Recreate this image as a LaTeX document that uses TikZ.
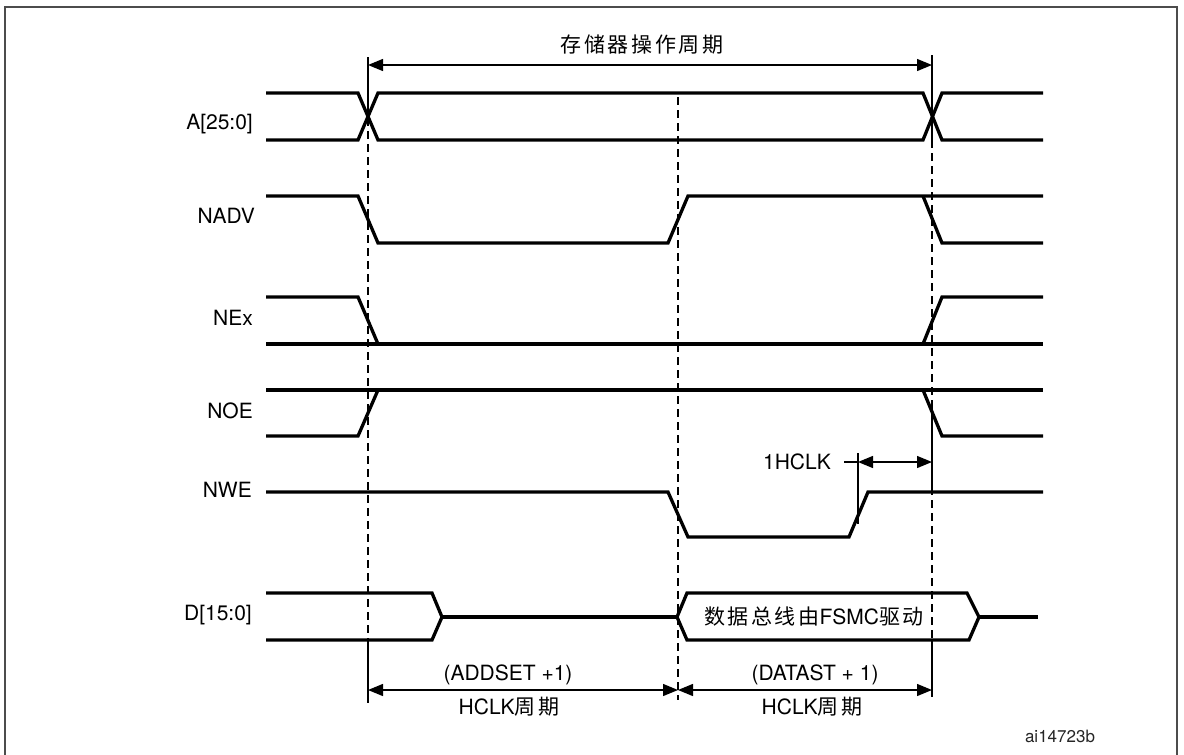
\documentclass[tikz,border=0pt]{standalone}
\usepackage{fontspec}
\setmainfont{TeX Gyre Heros}
\newfontfamily\cjk[LetterSpace=12]{Noto Sans CJK SC}
\usepackage{tikz}
\usetikzlibrary{arrows.meta,positioning}

\begin{document}
\begin{tikzpicture}[
    x=1pt, y=-1pt,
    wave/.style={line width=3.3pt, line join=miter},
    heavy/.style={line width=4.6pt},
    tick/.style={line width=1.3pt},
    guide/.style={tick, dash pattern=on 8pt off 5pt},
    dim/.style={tick, {Triangle[length=15pt,width=12pt]}-{Triangle[length=15pt,width=12pt]}},
    lbl/.style={font=\fontsize{21}{25}\selectfont, inner sep=0pt},
    sig/.style={lbl, anchor=east},
    frame/.style={line width=1.5pt, draw=black!70}]
  \useasboundingbox (0,0) rectangle (1184,755);
  \draw[frame] (5,760) |- (1177,7) -- (1177,760);

  % signal names
  \node[sig] (addr) at (253,124) {A[25:0]};
  \node[sig] (nadv) at (255,216) {NADV};
  \node[sig] (nex)  at (253,318) {NEx};
  \node[sig] (noe)  at (253,411) {NOE};
  \node[sig] (nwe)  at (252,490) {NWE};
  \node[sig] (data) at (252,615) {D[15:0]};

  % waveforms
  \draw[wave] (266,93) -- (358,93) -- (378,140) -- (923,140) -- (942,93) -- (1043,93);
  \draw[wave] (266,140) -- (358,140) -- (378,93) -- (923,93) -- (942,140) -- (1043,140);
  \draw[wave] (266,196) -- (358,196) -- (378,243) -- (668,243) -- (688,196) -- (1043,196);
  \draw[wave] (923,196) -- (942,243) -- (1043,243);
  \draw[wave] (266,297) -- (358,297) -- (378,344);
  \draw[heavy] (266,344) -- (1043,344);
  \draw[wave] (923,344) -- (942,297) -- (1043,297);
  \draw[heavy] (266,390) -- (1043,390);
  \draw[wave] (266,436) -- (358,436) -- (378,390);
  \draw[wave] (923,390) -- (942,436) -- (1043,436);
  \draw[wave] (266,492) -- (668,492) -- (688,537) -- (849,537) -- (868,492) -- (1043,492);
  \draw[wave] (266,593) -- (432,593) -- (442,617) -- (432,640) -- (266,640);
  \draw[wave] (442,617) -- (677,617);
  \draw[wave] (677,617) -- (687,593) -- (967,593) -- (979,617) -- (969,640) -- (687,640) -- cycle;
  \draw[wave] (979,617) -- (1038,617);
  \node[lbl] (bus) at (814,617) {{\cjk 数据总线由}FSMC{\cjk 驱动}};

  % timing marks
  \draw[tick] (368,57) -- (368,118);
  \draw[guide] (368,118) -- (368,640);
  \draw[tick] (368,640) -- (368,703);
  \draw[guide] (678,97) -- (678,700);
  \draw[tick] (932,55) -- (932,140);
  \draw[guide] (932,140) -- (932,400);
  \draw[tick] (932,400) -- (932,487);
  \draw[guide] (932,487) -- (932,640);
  \draw[tick] (932,640) -- (932,697);

  \coordinate (c0) at (368,65);
  \coordinate (c2) at (932,65);
  \draw[dim] (c0) -- (c2);
  \node[lbl] (cycle) at (642,45) {\cjk 存储器操作周期};

  \coordinate (h0) at (858,462);
  \coordinate (h1) at (932,462);
  \draw[tick] (858,453) -- (858,524);
  \draw[dim] (h0) -- (h1);
  \node[lbl, anchor=east] (hclk) at (831,462) {1HCLK};
  \draw[tick] ([xshift=13pt]hclk.east) -- (h0);

  \coordinate (b0) at (368,690);
  \coordinate (b1) at (678,690);
  \coordinate (b2) at (932,690);
  \draw[dim] (b0) -- (b1);
  \draw[dim] (b1) -- (b2);
  \node[lbl] (addset) at (508,675) {(ADDSET +1)};
  \node[lbl] (addclk) at (509,707) {HCLK{\cjk 周期}};
  \node[lbl] (datast) at (815,675) {(DATAST + 1)};
  \node[lbl] (datclk) at (812,707) {HCLK{\cjk 周期}};

  \node[font=\fontsize{17}{20}\selectfont, text=black!85, inner sep=0pt] (figid) at (1060,736) {ai14723b};
\end{tikzpicture}
\end{document}
